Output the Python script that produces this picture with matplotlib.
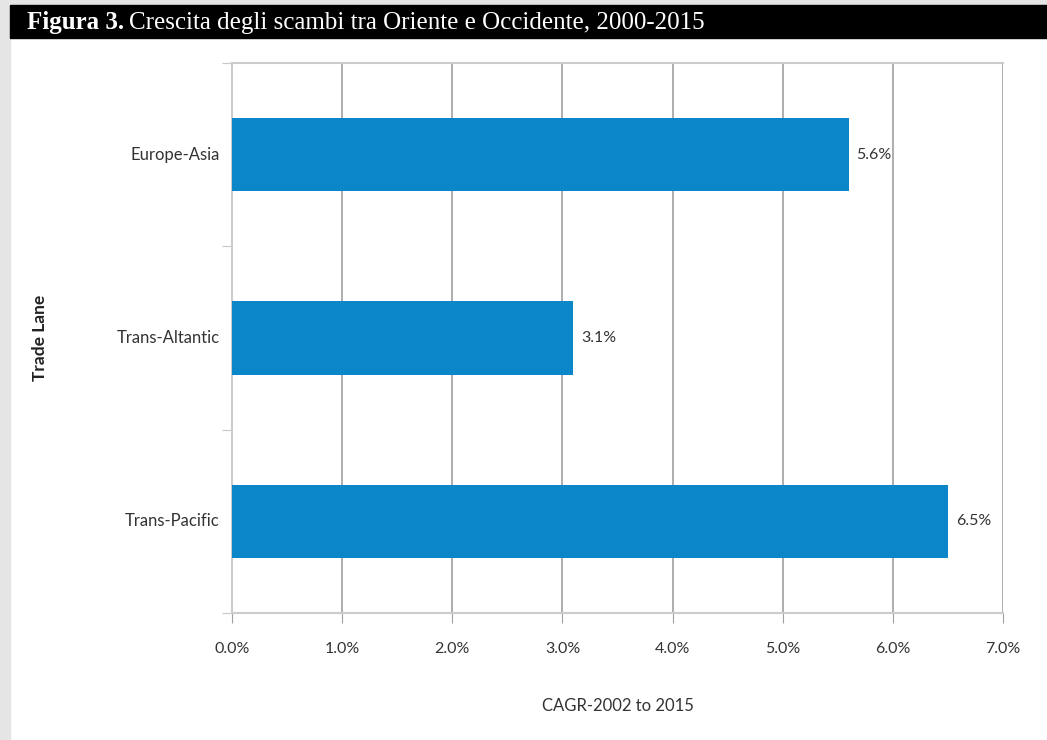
import matplotlib.pyplot as plt
from matplotlib.patches import Rectangle

lanes = ["Trans-Pacific", "Trans-Altantic", "Europe-Asia"]
cagr = [6.5, 3.1, 5.6]
x_ticks = [0, 1, 2, 3, 4, 5, 6, 7]

W, H = 1047, 740
fig = plt.figure(figsize=(W / 100, H / 100), dpi=100, facecolor="white")

# page frame: grey margins and black caption band
fig.patches.append(Rectangle((0, 1 - 5 / H), 1, 5 / H, transform=fig.transFigure,
                             color="#e5e5e5", zorder=0))
fig.patches.append(Rectangle((0, 0), 10 / W, 1, transform=fig.transFigure,
                             color="#e5e5e5", zorder=0))
fig.patches.append(Rectangle((10 / W, 1 - 38 / H), 1, 33 / H, transform=fig.transFigure,
                             color="black", zorder=1))

t1 = fig.text(27 / W, 1 - 23 / H, "Figura 3.", color="white", fontsize=18,
              family="Liberation Serif", fontweight="bold",
              va="center", ha="left")
fig.canvas.draw()
bb = t1.get_window_extent()
fig.text((bb.x1 + 5) / W, 1 - 23 / H,
         "Crescita degli scambi tra Oriente e Occidente, 2000-2015",
         color="white", fontsize=18, family="Liberation Serif",
         va="center", ha="left")

ax = fig.add_axes([232 / W, 1 - 613 / H, (1003 - 232) / W, 550 / H])
ax.barh(range(len(lanes)), cagr, height=0.4, color="#0a86c9", zorder=3)
for i, v in enumerate(cagr):
    ax.text(v + 0.07, i, f"{v:.1f}%", va="center", ha="left",
            fontsize=11.5, color="#333333", family="Lato")

ax.set_xlim(0, 7)
ax.set_ylim(-0.5, 2.5)
ax.set_xticks(x_ticks)
ax.set_xticklabels([f"{x:.1f}%" for x in x_ticks], fontsize=11.5, color="#333333",
                   family="Lato")
ax.set_yticks([-0.5, 0.5, 1.5, 2.5])
ax.set_yticklabels([])
for i, lane in enumerate(lanes):
    ax.text(-0.11, i, lane, ha="right", va="center", fontsize=12,
            color="#333333", family="Lato")

ax.grid(axis="x", color="#a0a0a0", linewidth=1.2, zorder=1)
ax.tick_params(axis="x", length=7, color="#a0a0a0", pad=14)
ax.tick_params(axis="y", length=7, color="#c8c8c8")
for side in ["left", "top", "bottom", "right"]:
    ax.spines[side].set_color("#cccccc")
    ax.spines[side].set_linewidth(1.5)
ax.spines["right"].set_visible(False)

ax.set_xlabel("CAGR-2002 to 2015", fontsize=12, color="#333333", family="Lato",
              labelpad=30)
fig.text(40 / W, 1 - 338 / H, "Trade Lane", rotation=90, fontsize=12.5,
         fontweight="bold", color="#222222", family="Lato", ha="center", va="center")

fig.savefig("out.png", dpi=100, facecolor="white")
